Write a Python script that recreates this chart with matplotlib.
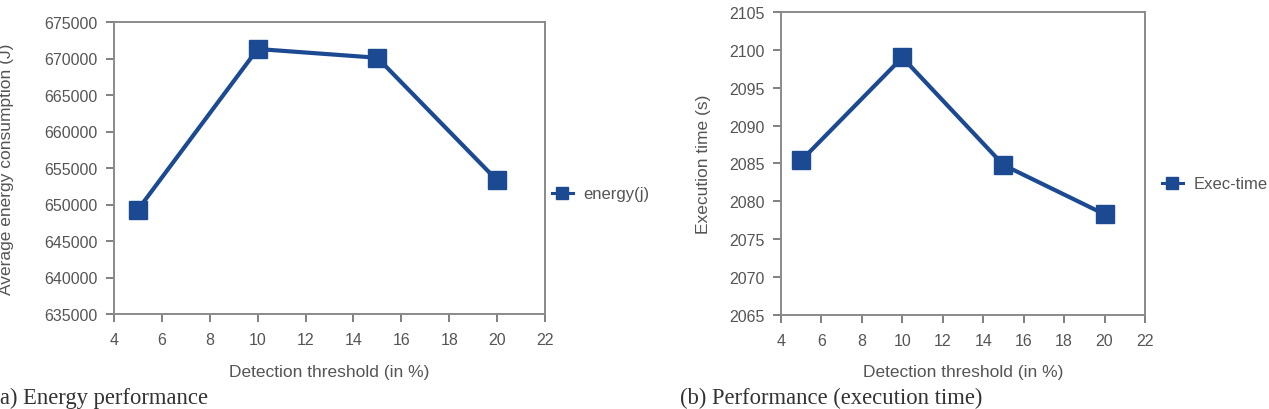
import matplotlib
matplotlib.use("Agg")
import matplotlib.pyplot as plt
from matplotlib.lines import Line2D

thresholds = [5, 10, 15, 20]
energy = [649300, 671300, 670100, 653300]
exec_time = [2085.4, 2099.0, 2084.8, 2078.3]

x_ticks = [4, 6, 8, 10, 12, 14, 16, 18, 20, 22]
energy_ticks = [635000, 640000, 645000, 650000, 655000, 660000, 665000, 670000, 675000]
time_ticks = [2065, 2070, 2075, 2080, 2085, 2090, 2095, 2100, 2105]

BLUE = '#1c4a92'
GRAY = '#808080'
TXT = '#555555'

plt.rcParams['font.family'] = ['Liberation Sans', 'DejaVu Sans']

fig = plt.figure(figsize=(12.69, 4.10), dpi=100)
W, H = 1269, 410

def make_ax(l, r, t, b):
    return fig.add_axes([l / W, 1 - b / H, (r - l) / W, (b - t) / H])

ax1 = make_ax(114, 545, 23, 315)
ax2 = make_ax(781, 1145, 13, 316)

def style(ax, yticks, xlabel, ylabel, xlab_y, ylab_x):
    for s in ax.spines.values():
        s.set_color('#8a8a8a')
        s.set_linewidth(1.4)
    ax.tick_params(axis='both', colors=GRAY, labelcolor=TXT, labelsize=11.5,
                   length=6, width=1.4, direction='out')
    ax.tick_params(axis='x', pad=7)
    ax.tick_params(axis='y', pad=6)
    ax.set_xticks(x_ticks)
    ax.set_xlim(x_ticks[0], x_ticks[-1])
    ax.set_yticks(yticks)
    ax.set_ylim(yticks[0], yticks[-1])
    ax.set_xlabel(xlabel, fontsize=12.5, color=TXT)
    ax.set_ylabel(ylabel, fontsize=12.5, color=TXT)
    ax.xaxis.set_label_coords(0.5, xlab_y)
    ax.yaxis.set_label_coords(ylab_x, 0.5)

style(ax1, energy_ticks, 'Detection threshold (in %)', 'Average energy consumption (J)', -0.171, -0.232)
style(ax2, time_ticks, 'Detection threshold (in %)', 'Execution time (s)', -0.162, -0.192)

ax1.plot(thresholds, energy, color=BLUE, lw=3.0, marker='s', markersize=13, clip_on=False)
ax2.plot(thresholds, exec_time, color=BLUE, lw=3.0, marker='s', markersize=13, clip_on=False)

def add_legend(ax, label, x, y):
    h = Line2D([], [], color=BLUE, lw=2.2, marker='s', markersize=9)
    ax.legend([h], [label], loc='center left', bbox_to_anchor=(x / W, 1 - y / H),
              bbox_transform=fig.transFigure, frameon=False, fontsize=12,
              handlelength=1.25, handletextpad=0.65, borderpad=0, borderaxespad=0,
              labelcolor=TXT)

add_legend(ax1, 'energy(j)', 552, 195)
add_legend(ax2, 'Exec-time', 1162, 185)

serif = ['Liberation Serif', 'DejaVu Serif']
fig.text(0 / W, 5.5 / H, 'a) Energy performance', fontsize=16.3,
         family=serif, color='#333333', va='baseline')
fig.text(680 / W, 5.5 / H, '(b) Performance (execution time)', fontsize=16.3,
         family=serif, color='#333333', va='baseline')

fig.savefig('out.png', dpi=100)
